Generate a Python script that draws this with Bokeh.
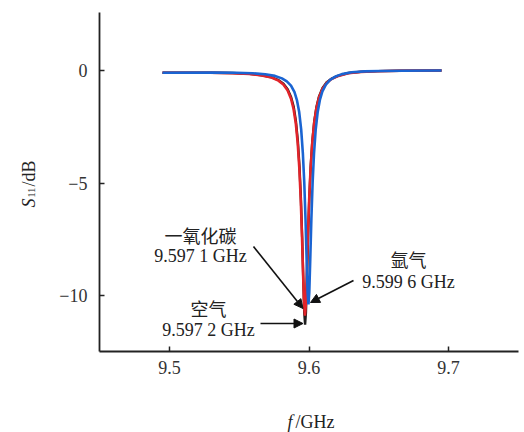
import math
from bokeh.plotting import figure
from bokeh.models import Label, Arrow, NormalHead, FixedTicker, Range1d
from bokeh.embed import file_html
from bokeh.resources import INLINE

# ---- data ----
air_f = [9.495, 9.5292, 9.5452, 9.5572, 9.5662, 9.5732, 9.5782, 9.5817, 9.5847, 9.5872, 9.589,
         9.5906, 9.592, 9.5932, 9.5942, 9.5951, 9.5959, 9.5966, 9.5972, 9.5978, 9.5985, 9.5993,
         9.6002, 9.6012, 9.6024, 9.6038, 9.6054, 9.6072, 9.6097, 9.6127, 9.6162, 9.6212,
         9.6282, 9.6372, 9.6492, 9.6652, 9.695]
air_s = [-0.10, -0.10, -0.11, -0.15, -0.21, -0.30, -0.43, -0.59, -0.83, -1.19, -1.60,
         -2.24, -3.13, -4.29, -5.69, -7.41, -9.27, -10.76, -11.30, -10.76, -9.27, -7.41,
         -5.69, -4.29, -3.13, -2.24, -1.60, -1.15, -0.78, -0.52, -0.36, -0.23,
         -0.11, -0.06, -0.03, -0.01, 0.00]

co_f = [9.495, 9.5291, 9.5451, 9.5571, 9.5661, 9.5731, 9.5781, 9.5816, 9.5846, 9.5871, 9.5889,
        9.5905, 9.5919, 9.5931, 9.5941, 9.595, 9.5958, 9.5965, 9.5971, 9.5977, 9.5984, 9.5992,
        9.6001, 9.6011, 9.6023, 9.6037, 9.6053, 9.6071, 9.6096, 9.6126, 9.6161, 9.6211,
        9.6281, 9.6371, 9.6491, 9.6651, 9.695]
co_s = [-0.10, -0.10, -0.12, -0.15, -0.22, -0.31, -0.45, -0.62, -0.88, -1.25, -1.70,
        -2.33, -3.23, -4.39, -5.77, -7.41, -9.12, -10.44, -10.90, -10.44, -9.12, -7.41,
        -5.77, -4.39, -3.23, -2.33, -1.68, -1.21, -0.82, -0.55, -0.38, -0.24,
        -0.12, -0.06, -0.03, -0.01, 0.00]

ar_f = [9.495, 9.5316, 9.5476, 9.5596, 9.5686, 9.5756, 9.5806, 9.5841, 9.5871, 9.5896, 9.5914,
        9.593, 9.5944, 9.5956, 9.5966, 9.5975, 9.5983, 9.599, 9.5996, 9.6002, 9.6009, 9.6017,
        9.6026, 9.6036, 9.6048, 9.6062, 9.6078, 9.6096, 9.6121, 9.6151, 9.6186, 9.6236,
        9.6306, 9.6396, 9.6516, 9.6676, 9.695]
ar_s = [-0.10, -0.09, -0.10, -0.12, -0.17, -0.24, -0.35, -0.48, -0.67, -0.96, -1.33,
        -1.86, -2.63, -3.68, -4.97, -6.60, -8.39, -9.87, -10.40, -9.87, -8.39, -6.60,
        -4.97, -3.68, -2.63, -1.86, -1.31, -0.93, -0.63, -0.42, -0.28, -0.16,
        -0.08, -0.04, -0.02, -0.01, 0.00]

x_ticks = [9.5, 9.6, 9.7]
y_ticks = [0, -5, -10]
y_tick_labels = {0: "0", -5: "\u22125", -10: "\u221210"}

ann_co = ("一氧化碳", "9.597 1 GHz")
ann_ar = ("氩气", "9.599 6 GHz")
ann_air = ("空气", "9.597 2 GHz")

SERIF = "Liberation Serif"
CJK = "Noto Sans CJK SC"

W, H = 522, 432
PX_PER_GHZ = 1395.0
PX_PER_DB = 22.5
x0 = 9.5 - 169 / PX_PER_GHZ
y_top = 70 / PX_PER_DB

def dx(px):
    return x0 + px / PX_PER_GHZ

def dy(py):
    return y_top - py / PX_PER_DB

p = figure(width=W, height=H, output_backend="svg", toolbar_location=None,
           x_range=Range1d(dx(0), dx(W)), y_range=Range1d(dy(H), dy(0)),
           min_border=0, min_border_left=0, min_border_right=0,
           min_border_top=0, min_border_bottom=0)
p.outline_line_color = None
p.xgrid.visible = False
p.ygrid.visible = False
p.background_fill_color = "white"

x_axis_y = dy(351)
y_axis_x = dx(99)

for ax in (p.xaxis[0], p.yaxis[0]):
    ax.axis_line_color = "#222222"
    ax.axis_line_width = 1.8
    ax.major_tick_line_color = "#222222"
    ax.major_tick_line_width = 1.5
    ax.major_tick_in = 5
    ax.major_tick_out = 0
    ax.minor_tick_line_color = None
    ax.major_label_text_font = SERIF
    ax.major_label_text_font_size = "18px"
    ax.major_label_text_color = "#333333"

p.xaxis[0].ticker = FixedTicker(ticks=x_ticks)
p.xaxis[0].fixed_location = x_axis_y
p.xaxis[0].bounds = (y_axis_x, dx(518))
p.xaxis[0].major_label_standoff = 9

p.yaxis[0].ticker = FixedTicker(ticks=y_ticks)
p.yaxis[0].major_label_overrides = y_tick_labels
p.yaxis[0].fixed_location = y_axis_x
p.yaxis[0].bounds = (x_axis_y, dy(12))
p.yaxis[0].major_label_standoff = 12

p.line(air_f, air_s, line_color="#1e1e1e", line_width=2.4)
p.line(co_f, co_s, line_color="#e2242a", line_width=2.6)
p.line(ar_f, ar_s, line_color="#1a64d2", line_width=2.6)

# arrows
def head():
    return NormalHead(size=9, fill_color="#111111", line_color="#111111", line_width=1)

p.add_layout(Arrow(end=head(), x_start=dx(253), y_start=dy(246), x_end=dx(302.5), y_end=dy(308),
                   line_color="#111111", line_width=1.6))
p.add_layout(Arrow(end=head(), x_start=dx(353), y_start=dy(280), x_end=dx(310), y_end=dy(302),
                   line_color="#111111", line_width=1.6))
p.add_layout(Arrow(end=head(), x_start=dx(260), y_start=dy(323), x_end=dx(302.5), y_end=dy(323),
                   line_color="#111111", line_width=1.6))

def txt(px, py, t, font, size="18px", style="normal", align="center", baseline="middle",
        angle=0.0):
    p.add_layout(Label(x=dx(px), y=dy(py), text=t, text_font=font, text_font_size=size,
                       text_font_style=style, text_align=align, text_baseline=baseline,
                       angle=angle, text_color="#222222"))

txt(200, 234, ann_co[0], CJK)
txt(200, 255, ann_co[1], SERIF)
txt(408, 258, ann_ar[0], CJK)
txt(408, 281, ann_ar[1], SERIF)
txt(208, 307, ann_air[0], CJK)
txt(208, 329, ann_air[1], SERIF)

# axis titles (italic symbol + upright unit)
txt(28, 207, "S", SERIF, "18px", "italic", "left", "alphabetic", math.pi / 2)
txt(30.5, 197, "11", SERIF, "10px", "normal", "left", "alphabetic", math.pi / 2)
txt(28, 186, "/dB", SERIF, "18px", "normal", "left", "alphabetic", math.pi / 2)

txt(287, 421, "f", SERIF, "18px", "italic", "left", "alphabetic")
txt(295, 421, "/GHz", SERIF, "18px", "normal", "left", "alphabetic")

open("out.html", "w").write(file_html(p, INLINE))
